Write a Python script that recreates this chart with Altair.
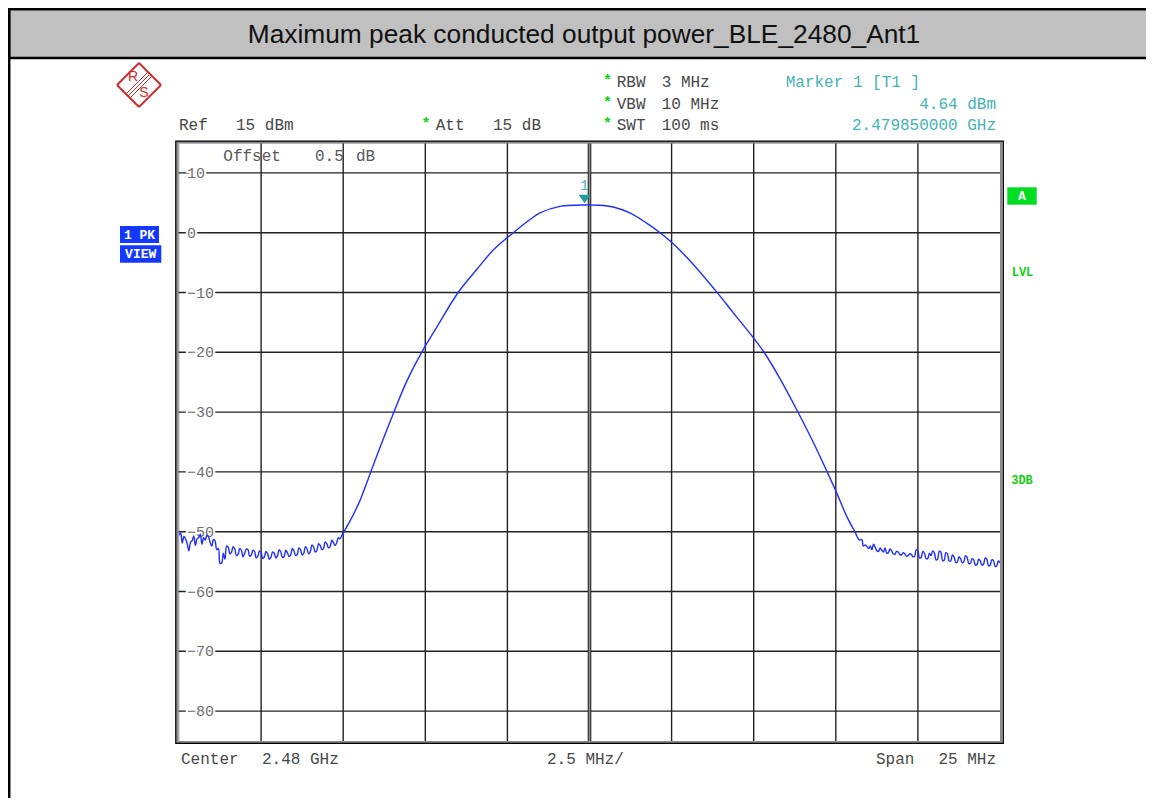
import altair as alt
import pandas as pd

# ---------------- data ----------------
TITLE = "Maximum peak conducted output power_BLE_2480_Ant1"

FREQ_MHZ = [
    # left noise floor
    2467.50, 2467.55, 2467.60, 2467.65, 2467.70, 2467.75, 2467.80, 2467.85, 2467.90, 2467.95,
    2468.00, 2468.05, 2468.10, 2468.15, 2468.20, 2468.25, 2468.30, 2468.35, 2468.40, 2468.45,
    2468.50, 2468.55, 2468.60, 2468.65, 2468.70, 2468.75, 2468.80, 2468.85, 2468.90, 2468.95,
    2469.00, 2469.05, 2469.10, 2469.15, 2469.20, 2469.25, 2469.30, 2469.35, 2469.40, 2469.45,
    2469.50, 2469.55, 2469.60, 2469.65, 2469.70, 2469.75, 2469.80, 2469.85, 2469.90, 2469.95,
    2470.00, 2470.05, 2470.10, 2470.15, 2470.20, 2470.25, 2470.30, 2470.35, 2470.40, 2470.45,
    2470.50, 2470.55, 2470.60, 2470.65, 2470.70, 2470.75, 2470.80, 2470.85, 2470.90, 2470.95,
    2471.00, 2471.05, 2471.10, 2471.15, 2471.20, 2471.25, 2471.30, 2471.35, 2471.40, 2471.45,
    2471.50, 2471.55, 2471.60, 2471.65, 2471.70, 2471.75, 2471.80, 2471.85, 2471.90, 2471.95,
    2472.00, 2472.05, 2472.10, 2472.15, 2472.20, 2472.25, 2472.30, 2472.35, 2472.40,
    # main lobe
    2472.45, 2472.71, 2473.01, 2473.34, 2473.62, 2474.03, 2474.43, 2474.89, 2475.35,
    2476.00, 2476.56, 2477.07, 2477.68, 2478.19, 2478.49, 2479.10, 2479.86, 2480.22,
    2480.72, 2481.23, 2481.74, 2482.15, 2482.50, 2483.06, 2483.87, 2484.38, 2485.01,
    2485.34, 2485.80, 2486.31, 2486.81, 2487.22, 2487.51, 2487.83, 2488.08, 2488.22,
    2488.29, 2488.34,
    # right noise floor
    2488.40, 2488.45, 2488.50, 2488.55, 2488.60, 2488.65, 2488.70, 2488.75, 2488.80, 2488.85,
    2488.90, 2488.95, 2489.00, 2489.05, 2489.10, 2489.15, 2489.20, 2489.25, 2489.30, 2489.35,
    2489.40, 2489.45, 2489.50, 2489.55, 2489.60, 2489.65, 2489.70, 2489.75, 2489.80, 2489.85,
    2489.90, 2489.95, 2490.00, 2490.05, 2490.10, 2490.15, 2490.20, 2490.25, 2490.30, 2490.35,
    2490.40, 2490.45, 2490.50, 2490.55, 2490.60, 2490.65, 2490.70, 2490.75, 2490.80, 2490.85,
    2490.90, 2490.95, 2491.00, 2491.05, 2491.10, 2491.15, 2491.20, 2491.25, 2491.30, 2491.35,
    2491.40, 2491.45, 2491.50, 2491.55, 2491.60, 2491.65, 2491.70, 2491.75, 2491.80, 2491.85,
    2491.90, 2491.95, 2492.00, 2492.05, 2492.10, 2492.15, 2492.20, 2492.25, 2492.30, 2492.35,
    2492.40, 2492.45, 2492.50,
]
LEVEL_DBM = [
    -50.6, -50.2, -51.9, -50.8, -51.2, -52.0, -53.2, -51.8, -51.5, -50.7,
    -52.3, -51.2, -51.0, -50.4, -52.1, -51.0, -51.4, -50.6, -50.9, -51.8,
    -52.4, -51.3, -51.6, -53.0, -52.8, -55.3, -55.2, -53.6, -54.6, -52.4,
    -52.6, -53.7, -53.4, -52.5, -52.9, -54.0, -53.8, -52.8, -53.1, -54.2,
    -53.6, -52.9, -53.0, -54.1, -53.9, -53.1, -53.3, -54.4, -54.1, -53.2,
    -53.5, -54.5, -54.2, -53.3, -53.7, -54.6, -54.3, -53.4, -53.6, -54.4,
    -54.0, -53.0, -53.4, -54.3, -54.2, -53.1, -53.5, -54.1, -53.9, -52.8,
    -53.2, -54.0, -53.8, -52.7, -53.0, -53.9, -53.6, -52.5, -52.9, -53.7,
    -53.3, -52.2, -52.6, -53.4, -53.1, -52.0, -52.3, -53.0, -52.8, -51.7,
    -52.0, -52.7, -52.5, -51.4, -51.8, -52.3, -51.9, -51.0, -51.2,
    -50.7, -48.2, -44.8, -40.0, -35.9, -30.2, -24.9, -20.0, -15.8,
    -10.0, -6.2, -2.9, 0.0, 2.2, 3.3, 4.4, 4.64, 4.6,
    4.3, 3.3, 1.6, 0.0, -1.6, -4.7, -9.9, -13.4, -17.7,
    -20.2, -24.4, -29.6, -35.0, -39.8, -43.3, -47.4, -50.0, -51.4,
    -51.3, -52.4,
    -52.2, -52.5, -52.8, -52.4, -53.0, -52.1, -52.6, -53.2, -53.3, -52.7,
    -53.1, -53.4, -52.7, -53.6, -53.5, -52.9, -53.2, -53.7, -53.8, -53.3,
    -53.4, -53.8, -53.9, -53.5, -53.7, -54.1, -54.0, -53.7, -53.8, -54.2,
    -54.1, -53.0, -53.2, -54.4, -54.3, -53.3, -53.6, -54.5, -54.5, -53.6,
    -54.0, -53.2, -53.5, -54.7, -54.6, -53.3, -53.4, -54.8, -54.8, -53.5,
    -53.7, -54.9, -54.9, -53.9, -54.2, -55.1, -55.1, -54.2, -54.5, -55.2,
    -55.0, -54.0, -54.3, -55.3, -55.3, -54.5, -54.7, -55.6, -55.5, -54.6,
    -54.9, -55.6, -55.4, -54.4, -54.6, -55.7, -55.6, -54.7, -54.8, -55.8,
    -55.7, -54.9, -55.2,
]

GRID_FREQ_MHZ = [2470.0, 2472.5, 2475.0, 2477.5, 2482.5, 2485.0, 2487.5, 2490.0]
CENTER_FREQ_MHZ = [2480.0]
GRID_LEVEL_DBM = [10, 0, -10, -20, -30, -40, -50, -60, -70, -80]
LEVEL_LABELS = ["10", "0", "−10", "−20", "−30", "−40", "−50", "−60", "−70", "−80"]

MARKER_FREQ_MHZ = [2479.85]
MARKER_LEVEL_DBM = [4.64]

# ---------------- style ----------------
MONO = "Liberation Mono"
SANS = "Liberation Sans"
BLUE = "#1f2fff"
TEAL = "#45b3b3"
GREEN = "#11d011"
DARK = "#484848"
GRID = "#222222"

W, H = 821, 598
xs = alt.Scale(domain=[2467.5, 2492.5], nice=False, zero=False)
ys = alt.Scale(domain=[-85, 15], nice=False, zero=False)

ONE = pd.DataFrame({"k": [0]})


def text(s, x, y, color=DARK, size=16, align="left", font=MONO, weight="normal"):
    return alt.Chart(ONE).mark_text(
        text=s, align=align, baseline="middle", font=font, fontSize=size,
        color=color, fontWeight=weight
    ).encode(x=alt.value(x), y=alt.value(y))


def seg(x1, y1, x2, y2, color, width):
    return alt.Chart(ONE).mark_rule(color=color, strokeWidth=width).encode(
        x=alt.value(x1), y=alt.value(y1), x2=alt.value(x2), y2=alt.value(y2))


def box(x1, y1, x2, y2, fill, stroke=None, width=0):
    kw = dict(fill=fill)
    if stroke is not None:
        kw.update(stroke=stroke, strokeWidth=width)
    return alt.Chart(ONE).mark_rect(**kw).encode(
        x=alt.value(x1), x2=alt.value(x2), y=alt.value(y1), y2=alt.value(y2))


def outline(x1, y1, x2, y2, stroke, width):
    return alt.Chart(ONE).mark_rect(fillOpacity=0, stroke=stroke, strokeWidth=width).encode(
        x=alt.value(x1), x2=alt.value(x2), y=alt.value(y1), y2=alt.value(y2))


layers = []

# banner + page border
layers.append(box(-170, -133.8, 975, -85, "#c0c0c0", "black", 2.5))
layers.append(seg(-169.8, -135, -169.8, 655, "black", 2.5))
layers.append(text(TITLE, 405, -108, color="#111111", size=26.3, align="center", font=SANS))

# R&S logo
RED = "#d42a2a"
for (a, b, c, d) in [(-40, -80, -18, -58), (-18, -58, -40, -36), (-40, -36, -62, -58), (-62, -58, -40, -80)]:
    layers.append(seg(a, b, c, d, RED, 1.9))
for off in (-2.0, 0.0, 2.0):
    layers.append(seg(-51 + off, -47 + off, -29 + off, -69 + off, RED, 1.0))
layers.append(text("R", -46, -66, color=RED, size=14, align="center", font=SANS))
layers.append(text("S", -35, -50, color=RED, size=14, align="center", font=SANS))

# header texts
layers += [
    text("Ref", 0, -18), text("15 dBm", 57, -18),
    text("*", 247, -20, color=GREEN, size=15, align="center", weight="bold"),
    text("Att", 256.7, -18), text("15 dB", 314, -18),
]
for yy, a, b in [(-61.5, "RBW", "3 MHz"), (-39, "VBW", "10 MHz"), (-18, "SWT", "100 ms")]:
    layers.append(text("*", 428.5, yy - 2, color=GREEN, size=15, align="center", weight="bold"))
    layers.append(text(a, 437.7, yy))
    layers.append(text(b, 482.7, yy))
layers += [
    text("Marker 1 [T1 ]", 606.7, -61.5, color=TEAL),
    text("4.64 dBm", 817, -39, color=TEAL, align="right"),
    text("2.479850000 GHz", 817, -18, color=TEAL, align="right"),
]

# side boxes
layers += [
    box(-59, 83, -20, 100, "#1538ff"),
    text("1 PK", -39.5, 91.5, color="white", size=13, align="center", weight="bold"),
    box(-59, 102.3, -17.7, 119.7, "#1538ff"),
    text("VIEW", -38.3, 111, color="white", size=13, align="center", weight="bold"),
    box(828.3, 44.3, 857.7, 61.7, "#00dd22"),
    text("A", 843, 53, color="white", size=13, align="center", weight="bold"),
    text("LVL", 843.5, 129, color=GREEN, size=12, align="center", weight="bold"),
    text("3DB", 843, 337, color=GREEN, size=12, align="center", weight="bold"),
]

# grid
hdf = pd.DataFrame({"lvl": GRID_LEVEL_DBM, "lab": LEVEL_LABELS})
layers.append(alt.Chart(hdf).mark_rule(color=GRID, strokeWidth=1.4).encode(
    y=alt.Y("lvl:Q", scale=ys, axis=None), x=alt.value(-2), x2=alt.value(W)))
vdf = pd.DataFrame({"f": GRID_FREQ_MHZ})
layers.append(alt.Chart(vdf).mark_rule(color=GRID, strokeWidth=1.4).encode(
    x=alt.X("f:Q", scale=xs, axis=None), y=alt.value(0), y2=alt.value(H)))
cdf = pd.DataFrame({"f": CENTER_FREQ_MHZ})
layers.append(alt.Chart(cdf).mark_rule(color="#222222", strokeWidth=3.6).encode(
    x=alt.X("f:Q", scale=xs, axis=None), y=alt.value(0), y2=alt.value(H)))
layers.append(alt.Chart(cdf).mark_rule(color="#8c8c8c", strokeWidth=1.6).encode(
    x=alt.X("f:Q", scale=xs, axis=None), y=alt.value(0), y2=alt.value(H)))

# level labels (halo then text)
layers.append(alt.Chart(hdf).mark_text(
    align="left", baseline="middle", font=MONO, fontSize=15, color="white",
    stroke="white", strokeWidth=4).encode(
    y=alt.Y("lvl:Q", scale=ys, axis=None), x=alt.value(8), text="lab:N"))
layers.append(alt.Chart(hdf).mark_text(
    align="left", baseline="middle", font=MONO, fontSize=15, color="#707070").encode(
    y=alt.Y("lvl:Q", scale=ys, axis=None), x=alt.value(8), text="lab:N"))

# offset text
layers += [text("Offset", 44.3, 13, color="#5a5a5a"), text("0.5", 136, 13, color="#5a5a5a"),
           text("dB", 177, 13, color="#5a5a5a")]

# trace
tdf = pd.DataFrame({"f": FREQ_MHZ, "lvl": LEVEL_DBM})
layers.append(alt.Chart(tdf).mark_line(color=BLUE, strokeWidth=1.4, clip=True,
                                       interpolate="catmull-rom").encode(
    x=alt.X("f:Q", scale=xs, axis=None), y=alt.Y("lvl:Q", scale=ys, axis=None),
    order=alt.Order("f:Q")))

# marker
mdf = pd.DataFrame({"f": MARKER_FREQ_MHZ, "lvl": MARKER_LEVEL_DBM})
layers.append(alt.Chart(mdf).mark_point(
    shape="M-1,-0.7L1,-0.7L0,0.7Z", size=144, filled=True, color="#1f9f9f",
    opacity=1, yOffset=-6).encode(
    x=alt.X("f:Q", scale=xs, axis=None), y=alt.Y("lvl:Q", scale=ys, axis=None)))
layers.append(alt.Chart(mdf).mark_text(
    text="1", font=MONO, fontSize=14, color=TEAL, yOffset=-19, baseline="middle").encode(
    x=alt.X("f:Q", scale=xs, axis=None), y=alt.Y("lvl:Q", scale=ys, axis=None)))

# frame
layers.append(outline(-1.5, -0.7, 822.2, 599.2, "#8a8a8a", 2.4))
layers.append(outline(-3.2, -1.8, 824.3, 600.4, "black", 1.3))

# bottom texts
layers += [
    text("Center", 2, 616, color=DARK), text("2.48 GHz", 83, 616, color=DARK),
    text("2.5 MHz/", 368, 616, color=DARK),
    text("Span", 697, 616, color=DARK), text("25 MHz", 817, 616, color=DARK, align="right"),
]

chart = alt.layer(*layers).properties(
    width=W, height=H,
    padding={"left": 171, "top": 135, "right": 146, "bottom": 57},
    autosize=alt.AutoSizeParams(type="none"),
).configure_view(stroke=None, fill="white").configure(background="white")

chart.save("out.html", embed_options={"renderer": "svg", "actions": False})
